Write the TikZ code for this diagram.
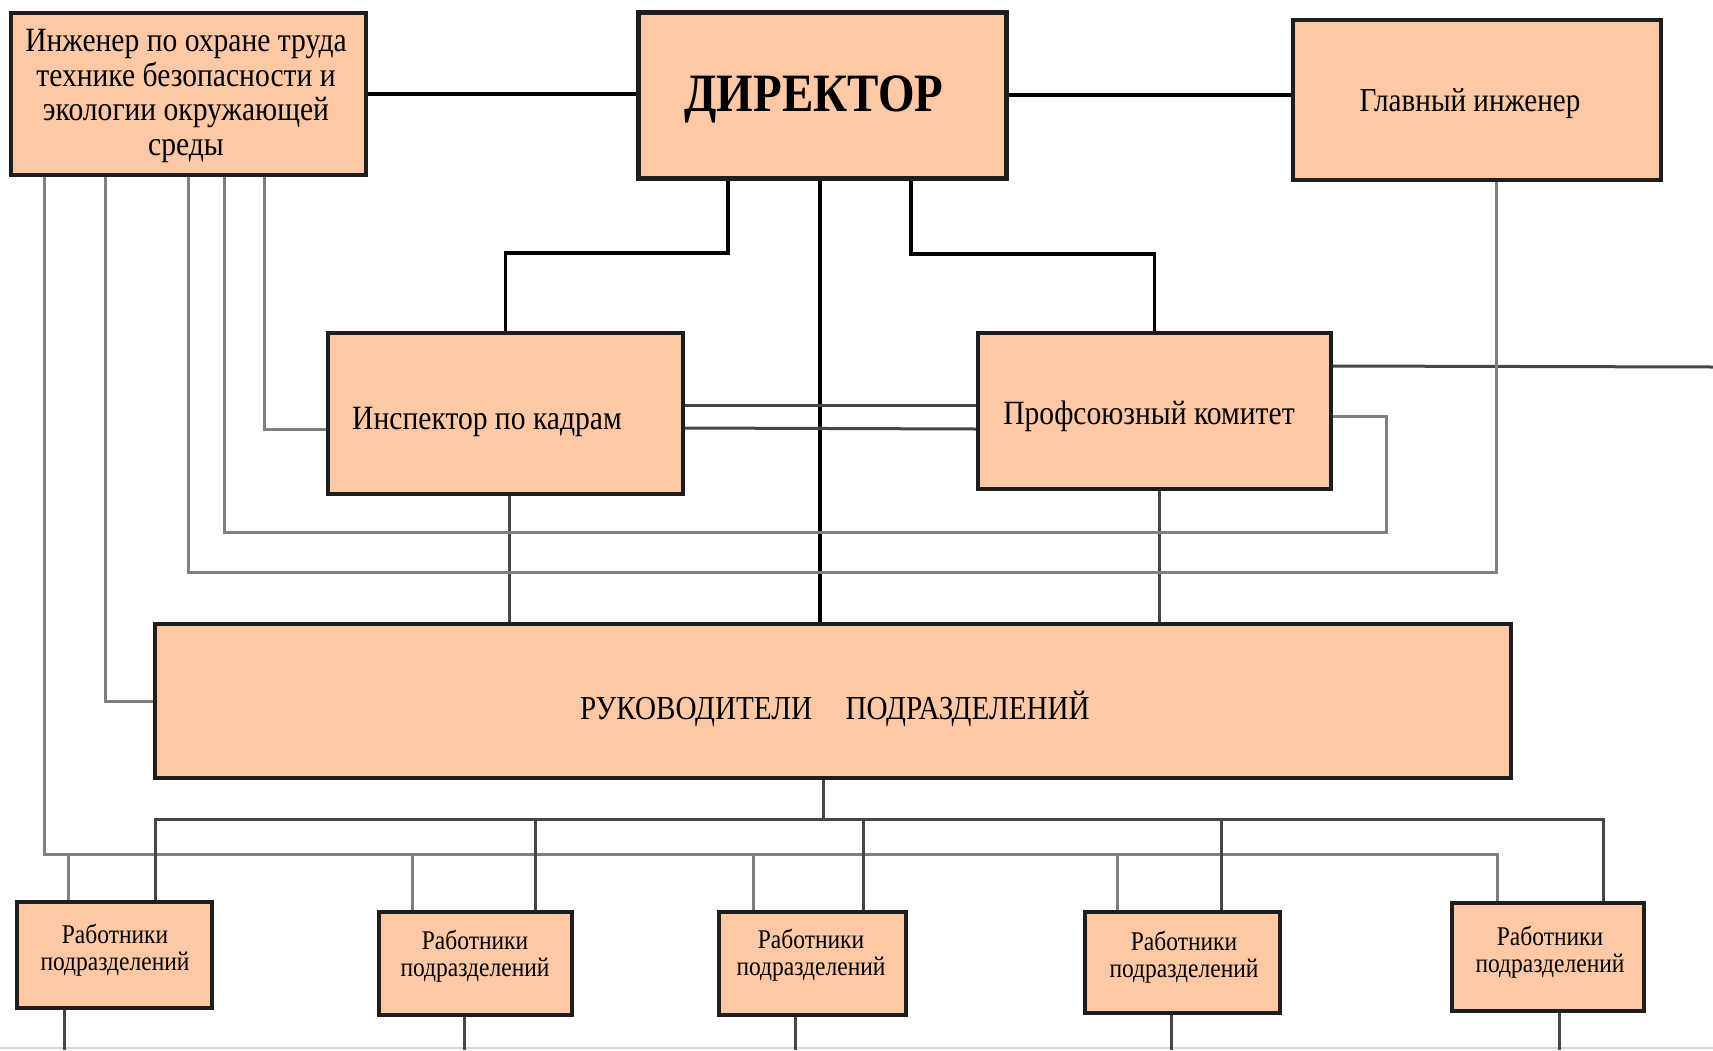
\documentclass[tikz,border=0pt]{standalone}
\usepackage{fontspec}
\setmainfont{Liberation Serif}[FakeStretch=0.87]
\definecolor{peach}{RGB}{252,200,166}
\definecolor{edge}{RGB}{30,30,30}
\definecolor{lgray}{RGB}{128,128,128}
\definecolor{dgray}{RGB}{70,70,70}
\definecolor{fgray}{RGB}{215,215,215}
\tikzset{
  box/.style={draw=edge, line width=3.8pt, fill=peach, inner sep=0pt},
  txt/.style={inner sep=0pt, align=center, text=black},
  blk/.style={draw=black, line width=3.2pt},
  dg/.style={draw=dgray, line width=3pt},
  lg/.style={draw=lgray, line width=3pt},
  faint/.style={draw=fgray, line width=2.5pt},
}
\begin{document}
\begin{tikzpicture}[x=1pt,y=-1pt]
\useasboundingbox[fill=white] (0,0) rectangle (1713,1050);
\coordinate (rightend) at (1713,367);
\coordinate (bl1) at (64,1050);
\coordinate (bl2) at (464,1050);
\coordinate (bl3) at (795,1050);
\coordinate (bl4) at (1171,1050);
\coordinate (bl5) at (1559,1050);
\coordinate (botL) at (0,1048);
\coordinate (botR) at (1713,1048);
% boxes
\node[box, minimum width=355pt, minimum height=162pt] (eng) at (188.5,94) {};
\node[box, line width=5pt, minimum width=368pt, minimum height=166pt] (dir) at (822,95) {};
\node[box, minimum width=368pt, minimum height=160pt] (glav) at (1477,100) {};
\node[box, minimum width=355pt, minimum height=161pt] (insp) at (505.5,413.5) {};
\node[box, minimum width=353pt, minimum height=156pt] (prof) at (1154.5,411) {};
\node[box, minimum width=1356pt, minimum height=154pt] (ruk) at (833,701) {};
\node[box, minimum width=195pt, minimum height=106pt] (w1) at (114.5,955) {};
\node[box, minimum width=193pt, minimum height=103pt] (w2) at (475.5,963.5) {};
\node[box, minimum width=187pt, minimum height=103pt] (w3) at (812.5,963.5) {};
\node[box, minimum width=195pt, minimum height=101pt] (w4) at (1182.5,962.5) {};
\node[box, minimum width=192pt, minimum height=108pt] (w5) at (1548,957) {};
% texts
\node[txt, font=\fontsize{34}{34.6}\selectfont] (engt) at (186,96) {Инженер по охране труда\\технике безопасности и\\экологии окружающей\\среды};
\node[txt, font=\fontsize{54}{56}\selectfont\bfseries] (dirt) at (814,99) {ДИРЕКТОР};
\node[txt, font=\fontsize{33.5}{35}\selectfont] (glavt) at (1470,104) {Главный инженер};
\node[txt, font=\fontsize{34}{36}\selectfont] (inspt) at (487,422) {Инспектор по кадрам};
\node[txt, font=\fontsize{34}{36}\selectfont] (proft) at (1149,416) {Профсоюзный комитет};
\node[txt, font=\fontsize{33.5}{36}\selectfont] (rukt) at (835,709) {РУКОВОДИТЕЛИ\hspace{1em}ПОДРАЗДЕЛЕНИЙ};
\node[txt, font=\fontsize{27}{27.5}\selectfont] (w1t) at (115,950) {Работники\\подразделений};
\node[txt, font=\fontsize{27}{27.5}\selectfont] (w2t) at (475,956) {Работники\\подразделений};
\node[txt, font=\fontsize{27}{27.5}\selectfont] (w3t) at (811,955) {Работники\\подразделений};
\node[txt, font=\fontsize{27}{27.5}\selectfont] (w4t) at (1184,957) {Работники\\подразделений};
\node[txt, font=\fontsize{27}{27.5}\selectfont] (w5t) at (1550,952) {Работники\\подразделений};
% connectors
\path[blk] (eng.east) -- (eng.east -| dir.west);
\path[blk] (dir.east) -- (dir.east -| glav.west);
\path[blk] (728,0 |- dir.south) -- (728,253) -| (insp.north);
\path[blk] (820,0 |- dir.south) -- (820,0 |- ruk.north);
\path[blk] (911,0 |- dir.south) -- (911,254) -| (prof.north);
\path[dg] (509,0 |- insp.south) -- (509,0 |- ruk.north);
\path[dg] (1159,0 |- prof.south) -- (1159,0 |- ruk.north);
\path[dg] (insp.east |- 0,405) -- (prof.west |- 0,405);
\path[dg] (insp.east |- 0,428) -- (prof.west |- 0,429);
\path[dg] (prof.east |- 0,366) -- (rightend);
\path[lg] (1496,0 |- glav.south) |- (188,572) -- (188,0 |- eng.south);
\path[lg] (prof.east |- 0,416) -| (1386,532) -| (224,0 |- eng.south);
\path[lg] (264,0 |- eng.south) |- (insp.west |- 0,429);
\path[lg] (105,0 |- eng.south) |- (ruk.west);
\path[lg] (44,0 |- eng.south) |- (1497,854) -- (1497,0 |- w5.north);
\path[lg] (68,854) -- (68,0 |- w1.north);
\path[lg] (412,854) -- (412,0 |- w2.north);
\path[lg] (753,854) -- (753,0 |- w3.north);
\path[lg] (1117,854) -- (1117,0 |- w4.north);
\path[dg] (823,0 |- ruk.south) -- (823,819);
\path[dg] (155,0 |- w1.north) -- (155,819) -- (1603,819) -- (1603,0 |- w5.north);
\path[dg] (535,819) -- (535,0 |- w2.north);
\path[dg] (863,819) -- (863,0 |- w3.north);
\path[dg] (1221,819) -- (1221,0 |- w4.north);
\path[faint] (botL) -- (botR);
\path[dg] (64,0 |- w1.south) -- (bl1);
\path[dg] (464,0 |- w2.south) -- (bl2);
\path[dg] (795,0 |- w3.south) -- (bl3);
\path[dg] (1171,0 |- w4.south) -- (bl4);
\path[dg] (1559,0 |- w5.south) -- (bl5);
\end{tikzpicture}
\end{document}
